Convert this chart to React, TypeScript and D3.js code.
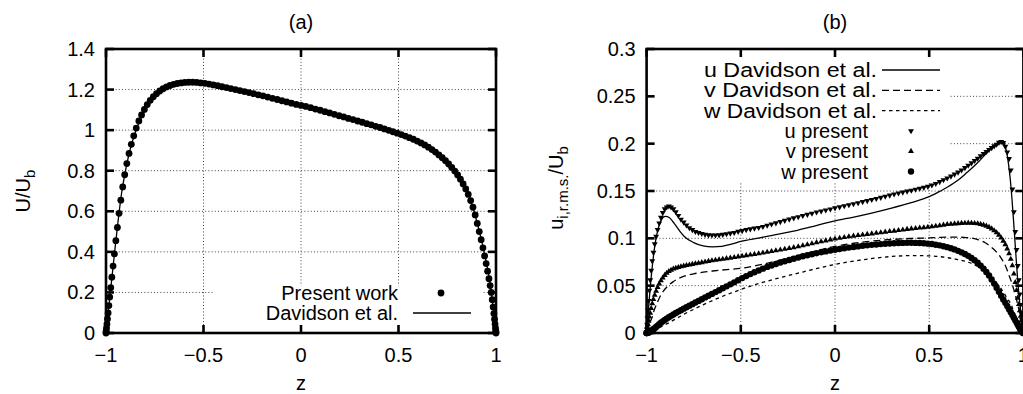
import React from "react";
import * as d3 from "d3";

// ---------- DATA ----------
// Collocation points (z) of the present computation
const zNodes = [-1, -0.9997, -0.9988, -0.9973, -0.9952, -0.9925, -0.9892, -0.9853, -0.9808, -0.9757,
  -0.97, -0.9638, -0.9569, -0.9495, -0.9415, -0.933, -0.9239, -0.9142, -0.904, -0.8932,
  -0.8819, -0.8701, -0.8577, -0.8449, -0.8315, -0.8176, -0.8032, -0.7884, -0.773, -0.7572,
  -0.741, -0.7243, -0.7071, -0.6895, -0.6716, -0.6532, -0.6344, -0.6152, -0.5957, -0.5758,
  -0.5556, -0.535, -0.5141, -0.4929, -0.4714, -0.4496, -0.4276, -0.4052, -0.3827, -0.3599,
  -0.3369, -0.3137, -0.2903, -0.2667, -0.243, -0.2191, -0.1951, -0.171, -0.1467, -0.1224,
  -0.098, -0.0736, -0.0491, -0.0245, 0, 0.0245, 0.0491, 0.0736, 0.098, 0.1224,
  0.1467, 0.171, 0.1951, 0.2191, 0.243, 0.2667, 0.2903, 0.3137, 0.3369, 0.3599,
  0.3827, 0.4052, 0.4276, 0.4496, 0.4714, 0.4929, 0.5141, 0.535, 0.5556, 0.5758,
  0.5957, 0.6152, 0.6344, 0.6532, 0.6716, 0.6895, 0.7071, 0.7243, 0.741, 0.7572,
  0.773, 0.7884, 0.8032, 0.8176, 0.8315, 0.8449, 0.8577, 0.8701, 0.8819, 0.8932,
  0.904, 0.9142, 0.9239, 0.933, 0.9415, 0.9495, 0.9569, 0.9638, 0.97, 0.9757,
  0.9808, 0.9853, 0.9892, 0.9925, 0.9952, 0.9973, 0.9988, 0.9997, 1];

// (a) mean velocity, present work
const meanPresent = [0, 0.003, 0.011, 0.025, 0.044, 0.069, 0.099, 0.135, 0.177, 0.223,
  0.275, 0.33, 0.39, 0.455, 0.52, 0.59, 0.655, 0.72, 0.78, 0.835,
  0.885, 0.93, 0.972, 1.01, 1.045, 1.075, 1.102, 1.126, 1.147, 1.165,
  1.18, 1.193, 1.204, 1.213, 1.22, 1.226, 1.23, 1.233, 1.235, 1.236,
  1.236, 1.235, 1.233, 1.231, 1.227, 1.223, 1.219, 1.214, 1.21, 1.205,
  1.2, 1.195, 1.19, 1.185, 1.18, 1.174, 1.169, 1.163, 1.157, 1.151,
  1.145, 1.139, 1.133, 1.127, 1.122, 1.117, 1.111, 1.104, 1.098, 1.091,
  1.085, 1.078, 1.071, 1.065, 1.058, 1.052, 1.045, 1.039, 1.032, 1.026,
  1.019, 1.013, 1.006, 0.999, 0.992, 0.985, 0.978, 0.971, 0.963, 0.955,
  0.946, 0.937, 0.927, 0.916, 0.904, 0.892, 0.878, 0.864, 0.849, 0.833,
  0.816, 0.798, 0.779, 0.758, 0.735, 0.71, 0.683, 0.653, 0.62, 0.582,
  0.54, 0.5, 0.46, 0.42, 0.38, 0.342, 0.305, 0.268, 0.234, 0.2,
  0.164, 0.128, 0.096, 0.068, 0.044, 0.025, 0.011, 0.003, 0];

// (a) mean velocity, Davidson et al.
const meanDavZ = [-1, -0.99, -0.98, -0.97, -0.96, -0.95, -0.94, -0.92, -0.9, -0.88, -0.85, -0.82, -0.78,
  -0.74, -0.7, -0.65, -0.6, -0.55, -0.5, -0.4, -0.3, -0.2, -0.1, 0, 0.1, 0.2, 0.3, 0.4, 0.5,
  0.6, 0.65, 0.7, 0.75, 0.8, 0.85, 0.88, 0.9, 0.92, 0.94, 0.96, 0.97, 0.98, 0.99, 1];
const meanDav = [0, 0.09, 0.18, 0.27, 0.36, 0.45, 0.535, 0.69, 0.8, 0.89, 0.99, 1.06, 1.13,
  1.175, 1.202, 1.222, 1.233, 1.235, 1.23, 1.213, 1.194, 1.172, 1.147, 1.122, 1.097, 1.071, 1.044, 1.017, 0.984,
  0.944, 0.916, 0.88, 0.838, 0.782, 0.705, 0.625, 0.555, 0.48, 0.395, 0.3, 0.24, 0.17, 0.088, 0];

// (b) r.m.s. fluctuations, present work
const uRmsPresent = [0, 0.001, 0.004, 0.009, 0.016, 0.024, 0.034, 0.045, 0.056, 0.066,
  0.076, 0.085, 0.094, 0.102, 0.109, 0.116, 0.122, 0.127, 0.131, 0.133,
  0.134, 0.133, 0.131, 0.128, 0.124, 0.12, 0.117, 0.114, 0.111, 0.109,
  0.107, 0.106, 0.105, 0.104, 0.1035, 0.1033, 0.1033, 0.1035, 0.104, 0.1047,
  0.1053, 0.106, 0.1072, 0.108, 0.109, 0.1098, 0.1106, 0.1113, 0.1124, 0.1137,
  0.115, 0.1162, 0.1175, 0.1188, 0.1201, 0.1215, 0.1227, 0.1239, 0.1252, 0.1264,
  0.1276, 0.1287, 0.1298, 0.1309, 0.132, 0.1331, 0.1342, 0.1353, 0.1364, 0.1375,
  0.1386, 0.1397, 0.1408, 0.1419, 0.1431, 0.1443, 0.1455, 0.1466, 0.1477, 0.1487,
  0.1497, 0.1507, 0.1517, 0.1527, 0.1537, 0.1547, 0.1561, 0.1578, 0.1597, 0.1617,
  0.1636, 0.1656, 0.1677, 0.1698, 0.172, 0.1745, 0.177, 0.1795, 0.182, 0.1845,
  0.187, 0.1895, 0.1915, 0.1937, 0.1957, 0.1975, 0.1993, 0.2012, 0.202, 0.201,
  0.197, 0.191, 0.184, 0.172, 0.152, 0.128, 0.107, 0.088, 0.071, 0.056,
  0.041, 0.03, 0.021, 0.014, 0.009, 0.005, 0.002, 0.0006, 0];

const vRmsPresent = [0, 0.0005, 0.0015, 0.0035, 0.006, 0.009, 0.013, 0.017, 0.021, 0.026,
  0.031, 0.0355, 0.04, 0.0443, 0.0483, 0.052, 0.0553, 0.0583, 0.061, 0.0632,
  0.0652, 0.0665, 0.0677, 0.0686, 0.0694, 0.0701, 0.0708, 0.0714, 0.072, 0.0727,
  0.0733, 0.0739, 0.0745, 0.0752, 0.0758, 0.0764, 0.077, 0.0776, 0.0781, 0.0787,
  0.0793, 0.0799, 0.0806, 0.0812, 0.0819, 0.0825, 0.0832, 0.0838, 0.0846, 0.0854,
  0.0862, 0.087, 0.0879, 0.0887, 0.0895, 0.0903, 0.0912, 0.0923, 0.0934, 0.0945,
  0.0956, 0.0966, 0.0975, 0.0985, 0.0995, 0.1003, 0.101, 0.1018, 0.1025, 0.1031,
  0.1037, 0.1043, 0.1049, 0.1055, 0.1061, 0.1067, 0.1073, 0.1078, 0.1084, 0.109,
  0.1096, 0.1101, 0.1106, 0.111, 0.1114, 0.1119, 0.1124, 0.1129, 0.1135, 0.1141,
  0.1147, 0.1151, 0.1154, 0.1157, 0.116, 0.1161, 0.1162, 0.1161, 0.1159, 0.1155,
  0.1149, 0.1141, 0.1131, 0.1117, 0.1101, 0.1082, 0.106, 0.1035, 0.1005, 0.0972,
  0.0935, 0.089, 0.0838, 0.078, 0.0712, 0.0625, 0.0535, 0.045, 0.037, 0.0302,
  0.0237, 0.018, 0.0132, 0.009, 0.0058, 0.0032, 0.0014, 0.0004, 0];

const wRmsPresent = [0, 0, 0, 0.0001, 0.0002, 0.0003, 0.0006, 0.001, 0.0014, 0.0022,
  0.003, 0.004, 0.005, 0.0064, 0.0078, 0.0093, 0.0108, 0.0123, 0.0138, 0.0152,
  0.0166, 0.0181, 0.0196, 0.0211, 0.0226, 0.0241, 0.0257, 0.0272, 0.0288, 0.0305,
  0.0322, 0.0339, 0.0357, 0.0376, 0.0394, 0.0413, 0.0432, 0.0452, 0.0472, 0.0493,
  0.0514, 0.0535, 0.0557, 0.058, 0.0601, 0.0622, 0.0642, 0.0661, 0.068, 0.0698,
  0.0713, 0.0729, 0.0744, 0.0758, 0.0771, 0.0784, 0.0797, 0.081, 0.0821, 0.0832,
  0.0843, 0.0853, 0.0862, 0.0871, 0.088, 0.0888, 0.0895, 0.0902, 0.0909, 0.0915,
  0.0921, 0.0926, 0.0931, 0.0935, 0.0939, 0.0942, 0.0946, 0.0948, 0.095, 0.0952,
  0.0953, 0.0953, 0.0952, 0.0951, 0.0948, 0.0944, 0.094, 0.0933, 0.0926, 0.0917,
  0.0907, 0.0896, 0.0883, 0.0868, 0.0852, 0.0834, 0.0815, 0.0793, 0.0768, 0.0742,
  0.0712, 0.068, 0.0645, 0.0607, 0.0566, 0.0522, 0.0478, 0.0435, 0.0393, 0.0355,
  0.032, 0.0285, 0.0252, 0.022, 0.019, 0.0161, 0.0135, 0.011, 0.0087, 0.0067,
  0.005, 0.0035, 0.0023, 0.0014, 0.0007, 0.0003, 0.0001, 0, 0];

// (b) r.m.s. fluctuations, Davidson et al.
const rmsDavZ = [-1, -0.99, -0.98, -0.97, -0.96, -0.95, -0.94, -0.93, -0.92, -0.91, -0.9, -0.88, -0.86,
  -0.84, -0.82, -0.8, -0.75, -0.7, -0.65, -0.6, -0.55, -0.5, -0.4, -0.3, -0.2, -0.1, 0,
  0.1, 0.2, 0.3, 0.4, 0.5, 0.55, 0.6, 0.65, 0.7, 0.75, 0.8, 0.84, 0.87, 0.885, 0.9, 0.91,
  0.92, 0.93, 0.94, 0.95, 0.96, 0.97, 0.98, 0.99, 1];
const uRmsDav = [0, 0.026, 0.05, 0.07, 0.087, 0.1, 0.109, 0.116, 0.12, 0.1225, 0.1232, 0.122, 0.1175,
  0.112, 0.1065, 0.102, 0.0955, 0.092, 0.091, 0.0915, 0.0938, 0.0968, 0.1005, 0.1045, 0.1085, 0.1135, 0.1185,
  0.1225, 0.127, 0.132, 0.1375, 0.144, 0.149, 0.1545, 0.161, 0.1695, 0.1785, 0.189, 0.197, 0.2015, 0.2025, 0.199, 0.192,
  0.18, 0.163, 0.14, 0.112, 0.083, 0.055, 0.033, 0.015, 0];
const vRmsDav = [0, 0.006, 0.012, 0.017, 0.024, 0.029, 0.0335, 0.038, 0.0415, 0.0445, 0.047, 0.051, 0.054,
  0.0565, 0.0585, 0.06, 0.0625, 0.0643, 0.0655, 0.0665, 0.0673, 0.0683, 0.072, 0.0765, 0.0815, 0.0868, 0.0915,
  0.0948, 0.0972, 0.0988, 0.0998, 0.1005, 0.1009, 0.1012, 0.1012, 0.1008, 0.0992, 0.095, 0.089, 0.0825, 0.078, 0.073, 0.0685,
  0.063, 0.0575, 0.052, 0.045, 0.038, 0.03, 0.0215, 0.011, 0];
const wRmsDav = [0, 0.0005, 0.001, 0.002, 0.003, 0.004, 0.005, 0.006, 0.007, 0.008, 0.009, 0.011, 0.0133,
  0.0155, 0.0177, 0.02, 0.025, 0.0298, 0.0343, 0.0385, 0.0423, 0.046, 0.0525, 0.058, 0.063, 0.068, 0.0725,
  0.076, 0.0788, 0.0808, 0.0818, 0.0815, 0.0808, 0.0795, 0.0776, 0.0752, 0.0712, 0.0645, 0.0568, 0.0498, 0.0458, 0.041, 0.038,
  0.035, 0.032, 0.0275, 0.022, 0.0175, 0.013, 0.0085, 0.004, 0];

// Axes
const xTicks = [-1, -0.5, 0, 0.5, 1];
const xTickLabels = ["\u22121", "\u22120.5", "0", "0.5", "1"];
const xGrid = [-0.5, 0, 0.5];
const yTicksA = [0, 0.2, 0.4, 0.6, 0.8, 1, 1.2, 1.4];
const yTickLabelsA = ["0", "0.2", "0.4", "0.6", "0.8", "1", "1.2", "1.4"];
const yGridA = [0.2, 0.4, 0.6, 0.8, 1, 1.2];
const yTicksB = [0, 0.05, 0.1, 0.15, 0.2, 0.25, 0.3];
const yTickLabelsB = ["0", "0.05", "0.1", "0.15", "0.2", "0.25", "0.3"];
const yGridB = [0.05, 0.1, 0.15, 0.2, 0.25];
const keyLabelsB = ["u Davidson et al.", "v Davidson et al.", "w Davidson et al.", "u present", "v present", "w present"];

const FONT = "'Liberation Sans', Arial, Helvetica, sans-serif";
const FS = 20;
const TICK = 8;
const BW = 2.6;

type Box = { left: number; right: number; top: number; bottom: number };

function Frame({ box, xs, ys, yTicks, yLabels, mask }: any) {
  const { left, right, top, bottom } = box;
  return (
    <g>
      <g stroke="#444" strokeWidth={1} strokeDasharray="1,2.2" fill="none">
        {mask.yGrid.map((v: number) => (
          <line key={"gy" + v} x1={left} x2={right} y1={ys(v)} y2={ys(v)} />
        ))}
        {xGrid.map((v) => (
          <line key={"gx" + v} x1={xs(v)} x2={xs(v)} y1={top} y2={bottom} />
        ))}
      </g>
      <rect x={mask.x} y={mask.y} width={mask.w} height={mask.h} fill="#fff" />
      <g stroke="#000" strokeWidth={BW}>
        {xTicks.map((v) => (
          <g key={"tx" + v}>
            <line x1={xs(v)} x2={xs(v)} y1={bottom} y2={bottom - TICK} />
            <line x1={xs(v)} x2={xs(v)} y1={top} y2={top + TICK} />
          </g>
        ))}
        {yTicks.map((v: number) => (
          <g key={"ty" + v}>
            <line x1={left} x2={left + TICK} y1={ys(v)} y2={ys(v)} />
            <line x1={right} x2={right - TICK} y1={ys(v)} y2={ys(v)} />
          </g>
        ))}
      </g>
      <g fontFamily={FONT} fontSize={FS} fill="#000">
        {xTicks.map((v, i) => (
          <text key={"lx" + v} x={xs(v)} y={bottom + 29} textAnchor="middle">
            {xTickLabels[i]}
          </text>
        ))}
        {yTicks.map((v: number, i: number) => (
          <text key={"ly" + v} x={left - 11} y={ys(v) + 7} textAnchor="end">
            {yLabels[i]}
          </text>
        ))}
      </g>
    </g>
  );
}

function Border({ box }: { box: Box }) {
  return (
    <rect x={box.left} y={box.top} width={box.right - box.left} height={box.bottom - box.top}
      fill="none" stroke="#000" strokeWidth={BW} />
  );
}

export default function App() {
  const boxA: Box = { left: 106, right: 496, top: 49, bottom: 333 };
  const boxB: Box = { left: 646.6, right: 1023.4, top: 49, bottom: 333 };

  const xA = d3.scaleLinear().domain([-1, 1]).range([boxA.left, boxA.right]);
  const yA = d3.scaleLinear().domain([0, 1.4]).range([boxA.bottom, boxA.top]);
  const xB = d3.scaleLinear().domain([-1, 1]).range([boxB.left, boxB.right]);
  const yB = d3.scaleLinear().domain([0, 0.3]).range([boxB.bottom, boxB.top]);

  const lineA = d3.line<number>().x((_, i) => xA(meanDavZ[i])).y((d) => yA(d)).curve(d3.curveMonotoneX);
  const lineB = d3.line<number>().x((_, i) => xB(rmsDavZ[i])).y((d) => yB(d)).curve(d3.curveMonotoneX);

  const tri = d3.symbol().type(d3.symbolTriangle).size(15)() as string;

  const legRowsB = [70, 90.3, 110.6, 130.9, 151.2, 171.5];

  return (
    <svg width={1023} height={394} style={{ position: "absolute", left: 0, top: 0, background: "#fff" }}>
      <rect x={0} y={0} width={1023} height={394} fill="#fff" />

      {/* ---------- Panel (a) ---------- */}
      <Frame box={boxA} xs={xA} ys={yA} yTicks={yTicksA} yLabels={yTickLabelsA}
        mask={{ yGrid: yGridA, x: 213, y: 286, w: 270, h: 46 }} />
      <path d={lineA(meanDav) as string} fill="none" stroke="#000" strokeWidth={1.3} />
      <g fill="#000">
        {meanPresent.map((d, i) => (
          <circle key={i} cx={xA(zNodes[i])} cy={yA(d)} r={3.4} />
        ))}
      </g>
      <Border box={boxA} />
      <g fontFamily={FONT} fontSize={FS} fill="#000">
        <text x={398} y={300} textAnchor="end">Present work</text>
        <text x={398} y={320} textAnchor="end">Davidson et al.</text>
      </g>
      <circle cx={441} cy={293} r={3.4} fill="#000" />
      <line x1={413} x2={471} y1={313} y2={313} stroke="#000" strokeWidth={1.3} />
      <text x={301} y={29} textAnchor="middle" fontFamily={FONT} fontSize={FS}>(a)</text>
      <text x={301} y={390} textAnchor="middle" fontFamily={FONT} fontSize={FS}>z</text>
      <text transform="translate(30,191) rotate(-90)" textAnchor="middle" fontFamily={FONT} fontSize={FS}>
        U/U<tspan fontSize={15} dy={5}>b</tspan>
      </text>

      {/* ---------- Panel (b) ---------- */}
      <Frame box={boxB} xs={xB} ys={yB} yTicks={yTicksB} yLabels={yTickLabelsB}
        mask={{ yGrid: yGridB, x: 647, y: 50, w: 303, h: 132 }} />
      <path d={lineB(uRmsDav) as string} fill="none" stroke="#000" strokeWidth={1.3} />
      <path d={lineB(vRmsDav) as string} fill="none" stroke="#000" strokeWidth={1.3} strokeDasharray="7,4" />
      <path d={lineB(wRmsDav) as string} fill="none" stroke="#000" strokeWidth={1.3} strokeDasharray="3.5,3.5" />
      <g fill="#000">
        {uRmsPresent.map((d, i) => (
          <path key={"u" + i} d={tri} transform={`translate(${xB(zNodes[i])},${yB(d)}) rotate(180)`} />
        ))}
        {vRmsPresent.map((d, i) => (
          <path key={"v" + i} d={tri} transform={`translate(${xB(zNodes[i])},${yB(d)})`} />
        ))}
        {wRmsPresent.map((d, i) => (
          <circle key={"w" + i} cx={xB(zNodes[i])} cy={yB(d)} r={3.2} />
        ))}
      </g>
      <Border box={boxB} />
      <g fontFamily={FONT} fontSize={FS} fill="#000">
        {keyLabelsB.slice(0, 3).map((t, i) => (
          <text key={t} x={877} y={legRowsB[i] + 7} textAnchor="end" textLength={173} lengthAdjust="spacingAndGlyphs">{t}</text>
        ))}
        {keyLabelsB.slice(3).map((t, i) => (
          <text key={t} x={868} y={legRowsB[i + 3] + 7} textAnchor="end">{t}</text>
        ))}
      </g>
      <line x1={882} x2={940} y1={legRowsB[0]} y2={legRowsB[0]} stroke="#000" strokeWidth={1.3} />
      <line x1={882} x2={940} y1={legRowsB[1]} y2={legRowsB[1]} stroke="#000" strokeWidth={1.3} strokeDasharray="7,4" />
      <line x1={882} x2={940} y1={legRowsB[2]} y2={legRowsB[2]} stroke="#000" strokeWidth={1.3} strokeDasharray="3.5,3.5" />
      <path d={tri} transform={`translate(911,${legRowsB[3]}) rotate(180)`} fill="#000" />
      <path d={tri} transform={`translate(911,${legRowsB[4]})`} fill="#000" />
      <circle cx={911} cy={legRowsB[5]} r={3.2} fill="#000" />
      <text x={835} y={29} textAnchor="middle" fontFamily={FONT} fontSize={FS}>(b)</text>
      <text x={835} y={390} textAnchor="middle" fontFamily={FONT} fontSize={FS}>z</text>
      <text transform="translate(563,188) rotate(-90)" textAnchor="middle" fontFamily={FONT} fontSize={FS}>
        u<tspan fontSize={15} dy={5}>i,r.m.s.</tspan><tspan dy={-5}>/U</tspan><tspan fontSize={15} dy={5}>b</tspan>
      </text>
    </svg>
  );
}
